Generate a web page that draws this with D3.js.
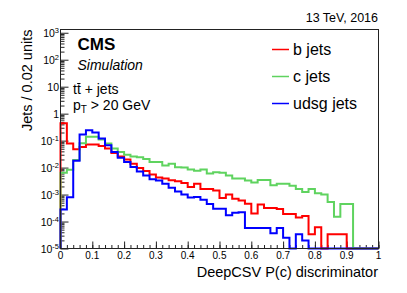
<!DOCTYPE html>
<html lang="en">
<head>
<meta charset="UTF-8">
<title>DeepCSV P(c) discriminator</title>
<script src="https://d3js.org/d3.v7.min.js"></script>
<style>
  body { margin: 0; background: #fff; }
  svg text { font-family: "Liberation Sans", Arial, sans-serif; fill: #000; }
</style>
</head>
<body>
<div id="chart"></div>
<script>
// histogram contents, 50 bins of width 0.02 (0 means empty bin)
const binWidth = 0.02;
const bJets = [0.44, 0.078, 0.048, 0.058, 0.072, 0.072, 0.063, 0.051, 0.035, 0.026,
  0.020, 0.014, 0.0097, 0.0075, 0.0056, 0.0043, 0.0039, 0.0034, 0.0031, 0.0027,
  0.0019, 0.0025, 0.0016, 0.0016, 0.0014, 0.00074, 0.001, 0.0007, 0.0006, 0.00046,
  0.0002, 0.00043, 0.00032, 0.00032, 0.00029, 0.00019, 0.00019, 0.00014, 0.00016, 0.000034,
  0.000062, 0, 0.000034, 0.000034, 0.000034, 0, 0, 0, 0, 0];
const cJets = [0.0064, 0.0083, 0.019, 0.08, 0.14, 0.14, 0.11, 0.078, 0.051, 0.038,
  0.030, 0.026, 0.024, 0.021, 0.016, 0.016, 0.012, 0.014, 0.0104, 0.010,
  0.0085, 0.0076, 0.0085, 0.006, 0.0067, 0.0064, 0.0051, 0.0039, 0.0039, 0.0033,
  0.0028, 0.0035, 0.0035, 0.0022, 0.0025, 0.0025, 0.0021, 0.0016, 0.00124, 0.0016,
  0.00113, 0.001, 0.00053, 0.00015, 0.00045, 0.00045, 0, 0, 0, 0];
const udsgJets = [0.00028, 0.00079, 0.018, 0.17, 0.24, 0.2, 0.12, 0.067, 0.038, 0.023,
  0.016, 0.0105, 0.0072, 0.0051, 0.0037, 0.0033, 0.0025, 0.0018, 0.0013, 0.001,
  0.00078, 0.00081, 0.00064, 0.00045, 0.0003, 0.0003, 0.00017, 0.00021, 0.00022, 0.000057,
  0.000057, 0.000057, 0.000057, 0.000037, 0.000057, 0.000025, 0, 0.000034, 0.00002, 0,
  0, 0, 0, 0, 0, 0, 0, 0, 0, 0];

const seriesNames = ["b jets", "c jets", "udsg jets"];
const seriesColors = ["#ff0000", "#5fd35f", "#0000ff"];

const xTickValues = [0, 0.1, 0.2, 0.3, 0.4, 0.5, 0.6, 0.7, 0.8, 0.9, 1];
const xTickLabels = ["0", "0.1", "0.2", "0.3", "0.4", "0.5", "0.6", "0.7", "0.8", "0.9", "1"];
const yTickValues = [1e-5, 1e-4, 1e-3, 1e-2, 1e-1, 1, 10, 1e2, 1e3];
const yTickBase = ["10", "10", "10", "10", "10", "1", "10", "10", "10"];
const yTickExp = ["-5", "-4", "-3", "-2", "-1", "", "", "2", "3"];

const width = 407, height = 293;
const plotLeft = 60.5, plotRight = 378.5, plotTop = 29.5, plotBottom = 248.5;
const yMin = 1e-5, yMax = 1.32e3;

const svg = d3.select("#chart").append("svg")
  .attr("width", width)
  .attr("height", height)
  .style("display", "block");

svg.append("rect").attr("width", width).attr("height", height).attr("fill", "#fff");

const x = d3.scaleLinear().domain([0, 1]).range([plotLeft, plotRight]);
const y = d3.scaleLog().domain([yMin, yMax]).range([plotBottom, plotTop]);

// minor ticks
const xMinor = d3.range(0, 51).map(i => i * binWidth);
const yMinor = [];
for (let d = -5; d <= 2; d++) {
  for (let k = 2; k <= 9; k++) yMinor.push(k * Math.pow(10, d));
}

const axisColor = "#222";

// x axis ticks (inside)
svg.append("g")
  .attr("transform", `translate(0,${plotBottom})`)
  .call(d3.axisBottom(x).tickValues(xMinor).tickSize(-3.5).tickFormat(""))
  .call(g => g.select(".domain").remove())
  .selectAll("line").attr("stroke", axisColor);
svg.append("g")
  .attr("transform", `translate(0,${plotBottom})`)
  .call(d3.axisBottom(x).tickValues(xTickValues).tickSize(-7).tickFormat(""))
  .call(g => g.select(".domain").remove())
  .selectAll("line").attr("stroke", axisColor);

// y axis ticks (inside)
svg.append("g")
  .attr("transform", `translate(${plotLeft},0)`)
  .call(d3.axisLeft(y).tickValues(yMinor).tickSize(-4).tickFormat(""))
  .call(g => g.select(".domain").remove())
  .selectAll("line").attr("stroke", axisColor);
svg.append("g")
  .attr("transform", `translate(${plotLeft},0)`)
  .call(d3.axisLeft(y).tickValues(yTickValues).tickSize(-8).tickFormat(""))
  .call(g => g.select(".domain").remove())
  .selectAll("line").attr("stroke", axisColor);

// tick labels
svg.append("g").selectAll("text")
  .data(xTickValues)
  .join("text")
  .attr("x", d => x(d))
  .attr("y", 258.5)
  .attr("text-anchor", "middle")
  .attr("font-size", 10)
  .text((d, i) => xTickLabels[i]);

const yLab = svg.append("g").selectAll("text")
  .data(yTickValues)
  .join("text")
  .attr("x", 59)
  .attr("y", d => y(d) + 4.5)
  .attr("text-anchor", "end")
  .attr("font-size", 10.5);
yLab.append("tspan").text((d, i) => yTickBase[i]);
yLab.filter((d, i) => yTickExp[i] !== "")
  .append("tspan")
  .attr("dy", -4.5)
  .attr("font-size", 7.5)
  .text(d => yTickExp[yTickValues.indexOf(d)]);

// histograms
const allSeries = [bJets, cJets, udsgJets];
const line = d3.line()
  .x(d => x(d[0]))
  .y(d => y(Math.max(d[1], yMin)))
  .curve(d3.curveStepAfter);

allSeries.forEach((vals, s) => {
  const pts = [[0, 0]];
  vals.forEach((v, i) => pts.push([i * binWidth, v]));
  pts.push([vals.length * binWidth, vals[vals.length - 1]]);
  pts.push([vals.length * binWidth, 0]);
  svg.append("path")
    .attr("d", line(pts))
    .attr("fill", "none")
    .attr("stroke", seriesColors[s])
    .attr("stroke-width", 2)
    .attr("stroke-linejoin", "miter");
});

// frame
svg.append("rect")
  .attr("x", plotLeft).attr("y", plotTop)
  .attr("width", plotRight - plotLeft).attr("height", plotBottom - plotTop)
  .attr("fill", "none")
  .attr("stroke", axisColor)
  .attr("stroke-width", 1);

// axis titles
svg.append("text")
  .attr("x", 378).attr("y", 277)
  .attr("text-anchor", "end")
  .attr("font-size", 14.5)
  .text("DeepCSV P(c) discriminator");

svg.append("text")
  .attr("transform", "translate(32,29.5) rotate(-90)")
  .attr("text-anchor", "end")
  .attr("font-size", 14.5)
  .text("Jets / 0.02 units");

svg.append("text")
  .attr("x", 378).attr("y", 22)
  .attr("text-anchor", "end")
  .attr("font-size", 12.5)
  .text("13 TeV, 2016");

// CMS labels
svg.append("text")
  .attr("x", 77.5).attr("y", 49.5)
  .attr("font-size", 17)
  .attr("font-weight", "bold")
  .text("CMS");
svg.append("text")
  .attr("x", 77.5).attr("y", 69.5)
  .attr("font-size", 14)
  .attr("font-style", "italic")
  .text("Simulation");

// t tbar + jets, bar drawn over the second t
const ttText = svg.append("text")
  .attr("x", 73).attr("y", 94)
  .attr("font-size", 14)
  .text("tt + jets");
const tbar = ttText.node().getExtentOfChar(1);
svg.append("line")
  .attr("x1", tbar.x + 0.3).attr("x2", tbar.x + tbar.width - 0.3)
  .attr("y1", 83.5).attr("y2", 83.5)
  .attr("stroke", "#000")
  .attr("stroke-width", 1);

const ptText = svg.append("text")
  .attr("x", 73).attr("y", 109.5)
  .attr("font-size", 14);
ptText.append("tspan").text("p");
ptText.append("tspan").attr("dy", 3.5).attr("font-size", 10).text("T");
ptText.append("tspan").attr("dy", -3.5).text(" > 20 GeV");

// legend
const legend = svg.append("g");
seriesNames.forEach((name, i) => {
  const yy = 49.5 + i * 27;
  legend.append("line")
    .attr("x1", 272).attr("x2", 289)
    .attr("y1", yy).attr("y2", yy)
    .attr("stroke", seriesColors[i])
    .attr("stroke-width", 1.5);
  legend.append("text")
    .attr("x", 293).attr("y", yy + 5.5)
    .attr("font-size", 16)
    .text(name);
});
</script>
</body>
</html>
